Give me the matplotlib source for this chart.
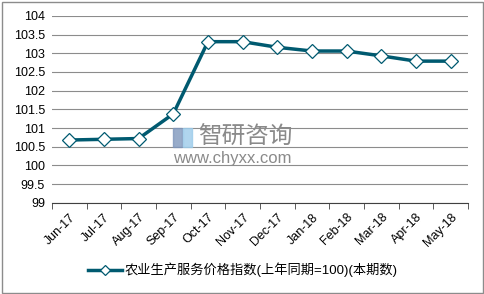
import numpy as np
from matplotlib import pyplot as plt
from matplotlib.patches import Rectangle

plt.rcParams['font.family'] = ['Liberation Sans', 'Noto Sans CJK SC', 'DejaVu Sans']
plt.rcParams['font.size'] = 9

months = ['Jun-17', 'Jul-17', 'Aug-17', 'Sep-17', 'Oct-17', 'Nov-17',
          'Dec-17', 'Jan-18', 'Feb-18', 'Mar-18', 'Apr-18', 'May-18']
values = [100.68, 100.70, 100.72, 101.38, 103.31, 103.31,
          103.16, 103.06, 103.06, 102.93, 102.79, 102.79]
series_name = '农业生产服务价格指数(上年同期=100)(本期数)'
yticks = [99, 99.5, 100, 100.5, 101, 101.5, 102, 102.5, 103, 103.5, 104]

fig = plt.figure(figsize=(4.85, 2.94), dpi=100)
fig.patches.append(Rectangle((0.004, 0.004), 0.992, 0.99, transform=fig.transFigure,
                             fill=False, edgecolor='#8c8c8c', linewidth=1.0))
ax = fig.add_axes([0.107, 0.31, 0.858, 0.636])

x = np.arange(len(months))

# watermark
ax.add_patch(Rectangle((0.29, 0.30), 0.022, 0.1, transform=ax.transAxes,
                       color='#7f97bd', alpha=0.8, zorder=1))
ax.add_patch(Rectangle((0.314, 0.30), 0.022, 0.1, transform=ax.transAxes,
                       color='#9ccbea', alpha=0.8, zorder=1))
ax.text(0.352, 0.35, '智研咨询', transform=ax.transAxes, fontsize=17,
        color='#8a8a8a', ha='left', va='center', family='Noto Sans CJK SC')
ax.text(0.29, 0.235, 'www.chyxx.com', transform=ax.transAxes, fontsize=12,
        color='#8a8a8a', ha='left', va='center')

ax.plot(x, values, color='#005a70', linewidth=2.5, marker='D', markersize=7,
        markerfacecolor='white', markeredgecolor='#005a70', markeredgewidth=0.9,
        label=series_name, zorder=3)

ax.set_xlim(-0.5, len(months) - 0.5)
ax.set_ylim(99, 104)
ax.set_yticks(yticks)
ax.set_yticklabels([f'{v:g}' for v in yticks])
ax.grid(axis='y', color='#8c8c8c', linewidth=0.8)
ax.set_axisbelow(True)

ax.set_xticks(x)
ax.set_xticklabels(months, rotation=45, ha='right', rotation_mode='anchor')
ax.set_xticks(np.arange(len(months) + 1) - 0.5, minor=True)
ax.tick_params(axis='x', which='major', length=0, pad=6)
ax.tick_params(axis='x', which='minor', length=4, color='#404040', direction='out')
ax.tick_params(axis='y', length=0, pad=5)

for s in ['top', 'right', 'left']:
    ax.spines[s].set_visible(False)
ax.spines['bottom'].set_color('#404040')

fig.legend(loc='center', bbox_to_anchor=(0.5, 0.082), frameon=False, fontsize=9.5,
           handlelength=2.6, handletextpad=0.2, markerscale=0.75)

fig.savefig('out.png', dpi=100)
